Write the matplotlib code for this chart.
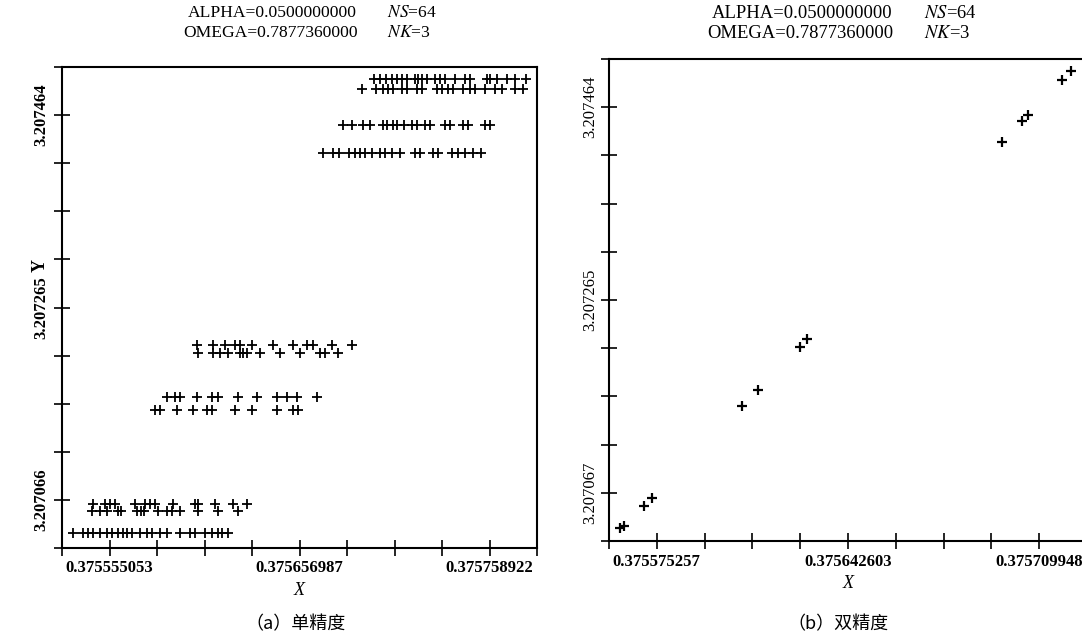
import numpy as np
import matplotlib
matplotlib.use("Agg")
import matplotlib.pyplot as plt

plt.rcParams['font.family'] = ['Liberation Serif', 'DejaVu Serif']
plt.rcParams['mathtext.fontset'] = 'stix'

# (a) single precision: rows of points, x values per row and one y per row
a_rows_x = [
    [0.3756970, 0.3757002, 0.3757034, 0.3757066, 0.3757093, 0.3757120, 0.3757147, 0.3757190,
     0.3757206, 0.3757227, 0.3757254, 0.3757297, 0.3757324, 0.3757351, 0.3757404, 0.3757458,
     0.3757485, 0.3757576, 0.3757592, 0.3757630, 0.3757683, 0.3757726, 0.3757785],
    [0.3756905, 0.3756980, 0.3757018, 0.3757045, 0.3757072, 0.3757120, 0.3757147, 0.3757200,
     0.3757227, 0.3757308, 0.3757334, 0.3757367, 0.3757393, 0.3757447, 0.3757485, 0.3757512,
     0.3757565, 0.3757619, 0.3757656, 0.3757726, 0.3757769],
    [0.3756803, 0.3756852, 0.3756911, 0.3756948, 0.3757018, 0.3757039, 0.3757072, 0.3757093,
     0.3757131, 0.3757174, 0.3757200, 0.3757243, 0.3757270, 0.3757351, 0.3757377, 0.3757447,
     0.3757474, 0.3757565, 0.3757592],
    [0.3756696, 0.3756750, 0.3756782, 0.3756836, 0.3756868, 0.3756895, 0.3756921, 0.3756959,
     0.3757002, 0.3757029, 0.3757066, 0.3757109, 0.3757190, 0.3757216, 0.3757286, 0.3757313,
     0.3757388, 0.3757420, 0.3757458, 0.3757501, 0.3757544],
    [0.3756020, 0.3756106, 0.3756170, 0.3756224, 0.3756251, 0.3756315, 0.3756428, 0.3756535,
     0.3756610, 0.3756642, 0.3756744, 0.3756852],
    [0.3756025, 0.3756106, 0.3756143, 0.3756186, 0.3756251, 0.3756267, 0.3756288, 0.3756358,
     0.3756465, 0.3756573, 0.3756680, 0.3756707, 0.3756777],
    [0.3755859, 0.3755902, 0.3755929, 0.3756020, 0.3756101, 0.3756133, 0.3756240, 0.3756342,
     0.3756449, 0.3756503, 0.3756557, 0.3756664],
    [0.3755795, 0.3755822, 0.3755913, 0.3755999, 0.3756074, 0.3756101, 0.3756224, 0.3756315,
     0.3756449, 0.3756535, 0.3756562],
    [0.3755462, 0.3755526, 0.3755553, 0.3755580, 0.3755687, 0.3755741, 0.3755768, 0.3755795,
     0.3755891, 0.3756009, 0.3756025, 0.3756117, 0.3756213, 0.3756288],
    [0.3755457, 0.3755500, 0.3755537, 0.3755596, 0.3755612, 0.3755698, 0.3755720, 0.3755736,
     0.3755811, 0.3755859, 0.3755886, 0.3755929, 0.3756025, 0.3756133, 0.3756240],
    [0.3755355, 0.3755408, 0.3755435, 0.3755462, 0.3755500, 0.3755537, 0.3755564, 0.3755596,
     0.3755623, 0.3755645, 0.3755671, 0.3755714, 0.3755752, 0.3755779, 0.3755822, 0.3755859,
     0.3755929, 0.3755983, 0.3756009, 0.3756063, 0.3756101, 0.3756133, 0.3756154, 0.3756186],
]
a_rows_y = [3.2075013, 3.2074910, 3.2074538, 3.2074248, 3.2072262, 3.2072179,
            3.2071724, 3.2071590, 3.2070618, 3.2070545, 3.2070318]

# (b) double precision
b_x = [0.3755623, 0.3755637, 0.3755708, 0.3755736, 0.3756053, 0.3756109, 0.3756257,
       0.3756282, 0.3756969, 0.3757039, 0.3757060, 0.3757180, 0.3757212]
b_y = [3.2070308, 3.2070328, 3.2070534, 3.2070617, 3.2071564, 3.2071729, 3.2072172,
       3.2072254, 3.2074283, 3.2074500, 3.2074561, 3.2074922, 3.2075015]

a_xlim = (0.3755295695, 0.3757844045)
a_ylim = (3.20701625, 3.20751375)
b_xlim = (0.3755584205, 0.3757267855)
b_ylim = (3.2070174, 3.2075138)
a_xlabels = ['0.375555053', '0.375656987', '0.375758922']
a_ylabels = ['3.207066', '3.207265', '3.207464']
b_xlabels = ['0.375575257', '0.375642603', '0.375709948']
b_ylabels = ['3.207067', '3.207265', '3.207464']


def tick_labels(labels):
    out = [''] * 11
    out[1], out[5], out[9] = labels
    return out


fig = plt.figure(figsize=(10.82, 6.41), dpi=100)
ax_a = fig.add_axes([62/1082, 1-548/641, 475/1082, 481/641])
ax_b = fig.add_axes([609/1082, 1-541/641, 478/1082, 482/641])

for xs, y in zip(a_rows_x, a_rows_y):
    ax_a.plot(xs, [y]*len(xs), ls='none', marker='+', ms=6.5, mew=1.3, color='black')
ax_b.plot(b_x, b_y, ls='none', marker='+', ms=7, mew=1.6, color='black')

for ax, xl, yl, xlab, ylab, ybold in [(ax_a, a_xlim, a_ylim, a_xlabels, a_ylabels, 'bold'),
                                      (ax_b, b_xlim, b_ylim, b_xlabels, b_ylabels, 'normal')]:
    ax.set_xlim(xl)
    ax.set_ylim(yl)
    ax.set_xticks(np.linspace(xl[0], xl[1], 11))
    ax.set_yticks(np.linspace(yl[0], yl[1], 11))
    ax.set_xticklabels(tick_labels(xlab), fontsize=12, fontweight='bold')
    ax.set_yticklabels(tick_labels(ylab), fontsize=12, fontweight=ybold,
                       rotation=90, va='center')
    ax.tick_params(direction='inout', length=12, width=1.2, color='black')
    ax.tick_params(axis='x', pad=3)
    for sp in ax.spines.values():
        sp.set_linewidth(1.5)
    ax.set_xlabel('X', fontsize=13, style='italic', labelpad=4)

ax_a.tick_params(axis='y', pad=3)
ax_b.tick_params(axis='y', pad=2)

fig.text(40/1082, 1-266/641, 'Y', fontsize=13, fontweight='bold', rotation=90,
         ha='center', va='center')

# parameter headers
for x0, x1, fs in [(188, 387, 12.6), (712, 924, 13.4)]:
    fig.text(x0/1082, 1-13/641, 'ALPHA=0.0500000000', fontsize=fs, ha='left', va='center')
    fig.text(x1/1082, 1-13/641, r'$NS$=64', fontsize=fs, ha='left', va='center')
    fig.text((x0-5)/1082, 1-33/641, 'OMEGA=0.7877360000', fontsize=fs, ha='left', va='center')
    fig.text(x1/1082, 1-33/641, r'$NK$=3', fontsize=fs, ha='left', va='center')

cjk = ['Noto Sans CJK SC', 'DejaVu Sans']
fig.text(296/1082, 1-624/641, '（a）单精度', fontsize=13, family=cjk, ha='center', va='center')
fig.text(838/1082, 1-624/641, '（b）双精度', fontsize=13, family=cjk, ha='center', va='center')

fig.savefig('out.png', dpi=100)
